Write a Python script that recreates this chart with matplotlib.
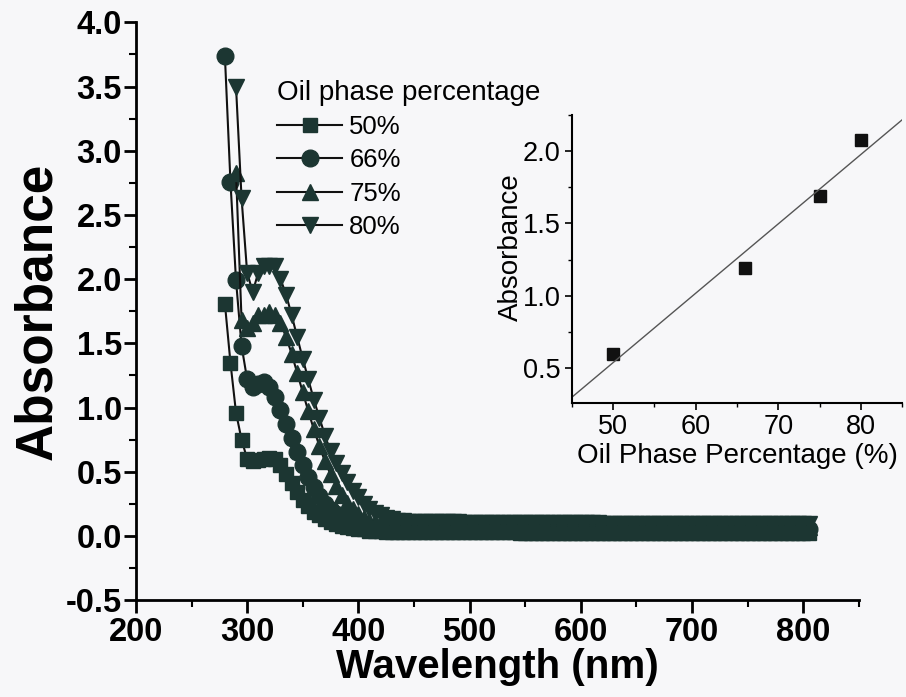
import numpy as np
import matplotlib
matplotlib.use("Agg")
import matplotlib.pyplot as plt
from matplotlib.ticker import MultipleLocator

plt.rcParams['font.family'] = ['Liberation Sans', 'DejaVu Sans']

# UV-vis spectra, 5 nm step
start_50 = 280
abs_50 = [1.81, 1.35, 0.96, 0.75, 0.60, 0.58, 0.59, 0.60, 0.61, 0.60, 0.55,
          0.48, 0.41, 0.34, 0.28, 0.23, 0.19, 0.16, 0.13, 0.11, 0.09, 0.08,
          0.07, 0.06, 0.05, 0.05, 0.04, 0.04, 0.04, 0.03, 0.03, 0.03, 0.03,
          0.03, 0.03, 0.03, 0.03, 0.03, 0.03, 0.03, 0.03, 0.03, 0.03,
          0.03, 0.03, 0.03, 0.03, 0.03, 0.03, 0.03, 0.03, 0.03, 0.03,
          0.02, 0.02, 0.02, 0.02, 0.02, 0.02, 0.02, 0.02, 0.02, 0.02,
          0.02, 0.02, 0.02, 0.02, 0.02, 0.02, 0.02, 0.02, 0.02, 0.02,
          0.02, 0.02, 0.02, 0.02, 0.02, 0.02, 0.02, 0.02, 0.02, 0.02,
          0.02, 0.02, 0.02, 0.02, 0.02, 0.02, 0.02, 0.02, 0.02, 0.02,
          0.02, 0.02, 0.02, 0.02, 0.02, 0.02, 0.02, 0.02, 0.02, 0.02,
          0.02, 0.02, 0.02]

start_66 = 280
abs_66 = [3.74, 2.76, 1.99, 1.48, 1.22, 1.16, 1.18, 1.20, 1.16, 1.08, 0.98,
          0.87, 0.76, 0.65, 0.55, 0.46, 0.38, 0.31, 0.25, 0.20, 0.17, 0.14,
          0.12, 0.10, 0.09, 0.08, 0.07, 0.07, 0.06, 0.06, 0.06, 0.06, 0.06,
          0.06, 0.06, 0.06, 0.06, 0.06, 0.06, 0.06, 0.06, 0.06, 0.06,
          0.06, 0.06, 0.06, 0.06, 0.06, 0.06, 0.06, 0.06, 0.06, 0.06,
          0.05, 0.05, 0.05, 0.05, 0.05, 0.05, 0.05, 0.05, 0.05, 0.05,
          0.05, 0.05, 0.05, 0.05, 0.05, 0.05, 0.05, 0.05, 0.05, 0.05,
          0.05, 0.05, 0.05, 0.05, 0.05, 0.05, 0.05, 0.05, 0.05, 0.05,
          0.05, 0.05, 0.05, 0.05, 0.05, 0.05, 0.05, 0.05, 0.05, 0.05,
          0.05, 0.05, 0.05, 0.05, 0.05, 0.05, 0.05, 0.05, 0.05, 0.05,
          0.05, 0.05, 0.05]

start_75 = 290
abs_75 = [2.83, 1.68, 1.62, 1.66, 1.72, 1.72, 1.74, 1.72, 1.66,
          1.55, 1.42, 1.27, 1.12, 0.97, 0.83, 0.70, 0.58, 0.48, 0.39, 0.32,
          0.26, 0.21, 0.17, 0.14, 0.12, 0.10, 0.09, 0.08, 0.08, 0.08, 0.08,
          0.08, 0.08, 0.08, 0.08, 0.08, 0.08, 0.08, 0.08, 0.08, 0.08,
          0.08, 0.08, 0.08, 0.08, 0.08, 0.08, 0.08, 0.08, 0.08, 0.08,
          0.08, 0.08, 0.08, 0.08, 0.08, 0.07, 0.07, 0.07, 0.07, 0.07,
          0.07, 0.07, 0.07, 0.07, 0.07, 0.07, 0.07, 0.07, 0.07, 0.07,
          0.07, 0.07, 0.07, 0.07, 0.07, 0.07, 0.07, 0.07, 0.07, 0.07,
          0.07, 0.07, 0.07, 0.07, 0.07, 0.07, 0.07, 0.07, 0.07, 0.07,
          0.07, 0.07, 0.07, 0.07, 0.07, 0.07, 0.07, 0.07, 0.07, 0.07,
          0.07, 0.07, 0.07]

start_80 = 290
abs_80 = [3.50, 2.63, 2.05, 1.90, 2.05, 2.10, 2.10, 2.10, 2.00,
          1.88, 1.72, 1.55, 1.38, 1.22, 1.06, 0.92, 0.78, 0.66, 0.57, 0.49,
          0.42, 0.35, 0.30, 0.25, 0.21, 0.18, 0.16, 0.14, 0.13, 0.12, 0.12,
          0.11, 0.11, 0.11, 0.11, 0.11, 0.11, 0.11, 0.11, 0.11, 0.11,
          0.10, 0.10, 0.10, 0.10, 0.10, 0.10, 0.10, 0.10, 0.10, 0.10,
          0.10, 0.10, 0.10, 0.10, 0.10, 0.10, 0.10, 0.10, 0.10, 0.10,
          0.10, 0.10, 0.10, 0.10, 0.10, 0.09, 0.09, 0.09, 0.09, 0.09,
          0.09, 0.09, 0.09, 0.09, 0.09, 0.09, 0.09, 0.09, 0.09, 0.09,
          0.09, 0.09, 0.09, 0.09, 0.09, 0.09, 0.09, 0.09, 0.09, 0.09,
          0.09, 0.09, 0.09, 0.09, 0.09, 0.09, 0.09, 0.09, 0.09, 0.09,
          0.09, 0.09, 0.09]

series_labels = ["50%", "66%", "75%", "80%"]

# inset data
oil_pct = [50, 66, 75, 80]
oil_abs = [0.60, 1.19, 1.69, 2.08]

mark_col = '#1c3632'
bg = '#f7f7f9'

fig = plt.figure(figsize=(9.06, 6.97), dpi=100, facecolor=bg)
ax = fig.add_axes([0.150, 0.139, 0.798, 0.829], facecolor=bg)

series = [(start_50, abs_50, 's', 10.5), (start_66, abs_66, 'o', 12),
          (start_75, abs_75, '^', 12), (start_80, abs_80, 'v', 12)]
for (st, vals, mk, ms), lab in zip(series, series_labels):
    wl = st + 5 * np.arange(len(vals))
    ax.plot(wl, vals, color='#111111', lw=1.5, marker=mk, ms=ms,
            mfc=mark_col, mec=mark_col, label=lab)

ax.set_xlim(200, 850)
ax.set_ylim(-0.5, 4.0)
ax.xaxis.set_minor_locator(MultipleLocator(50))
ax.yaxis.set_minor_locator(MultipleLocator(0.25))
ax.set_yticks(np.arange(-0.5, 4.01, 0.5))
ax.set_yticklabels(["%.1f" % v for v in np.arange(-0.5, 4.01, 0.5)])
ax.set_xticks([200, 300, 400, 500, 600, 700, 800])
for s in ['top', 'right']:
    ax.spines[s].set_visible(False)
for s in ['left', 'bottom']:
    ax.spines[s].set_linewidth(2)
ax.tick_params(which='major', direction='out', length=9, width=2,
               labelsize=23.5)
ax.tick_params(axis='y', which='major', pad=1)
ax.tick_params(axis='x', which='major', pad=3)
ax.tick_params(which='minor', direction='out', length=5, width=1.5)
for t in ax.get_xticklabels() + ax.get_yticklabels():
    t.set_fontweight('bold')
ax.set_xlabel("Wavelength (nm)", fontsize=29, fontweight='bold', labelpad=0)
ax.set_ylabel("Absorbance", fontsize=37, fontweight='bold', labelpad=3)

leg = ax.legend(title="Oil phase percentage", loc='upper left',
                bbox_to_anchor=(0.292, 0.904), bbox_transform=fig.transFigure,
                frameon=False, fontsize=18.5, title_fontsize=20, numpoints=1,
                handlelength=2.5, handletextpad=0.3, labelspacing=0.36,
                borderpad=0, alignment='left')

# inset
axi = fig.add_axes([0.631, 0.422, 0.365, 0.413])
axi.patch.set_alpha(0)
axi.plot(oil_pct, oil_abs, ls='none', marker='s', ms=8, color='#111111')
k, b = np.polyfit(oil_pct, oil_abs, 1)
xf = np.array([45, 85])
axi.plot(xf, k * xf + b, color='#555555', lw=1)
axi.set_xlim(45, 85)
axi.set_ylim(0.26, 2.25)
axi.xaxis.set_major_locator(MultipleLocator(10))
axi.xaxis.set_minor_locator(MultipleLocator(5))
axi.yaxis.set_major_locator(MultipleLocator(0.5))
axi.yaxis.set_minor_locator(MultipleLocator(0.25))
for s in ['top', 'right']:
    axi.spines[s].set_visible(False)
for s in ['left', 'bottom']:
    axi.spines[s].set_linewidth(1.5)
axi.tick_params(which='major', direction='out', length=5, width=1.2,
                labelsize=19.5, pad=3)
axi.tick_params(which='minor', direction='out', length=3, width=1)
axi.set_xlabel("Oil Phase Percentage (%)", fontsize=20, labelpad=2)
axi.set_ylabel("Absorbance", fontsize=20, labelpad=4)
axi.yaxis.set_label_coords(-0.145, 0.54)

fig.savefig("out.png", dpi=100, facecolor=bg)
